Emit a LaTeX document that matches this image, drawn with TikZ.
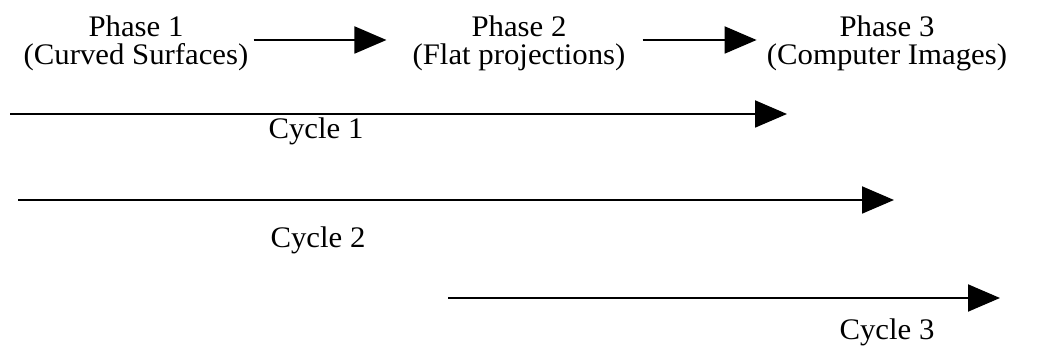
\documentclass[tikz,border=0pt]{standalone}
\usepackage{fontspec}
\setmainfont{Liberation Serif}[FakeStretch=1.03]
\usepackage{tikz}
\usetikzlibrary{arrows.meta,positioning}

\begin{document}
\begin{tikzpicture}[
  x=0.02cm, y=-0.02cm,
  phase/.style={align=center, inner sep=0pt, font=\fontsize{17}{15.9}\selectfont},
  lbl/.style={inner sep=0pt, anchor=base, font=\fontsize{17}{15.9}\selectfont},
  arr/.style={-{Triangle[length=6.4mm,width=5.4mm]}, line width=1.1pt}
]
\useasboundingbox (0,0) rectangle (1037,347);
\node[phase] (phaseA) at (136,43) {Phase 1\\(Curved Surfaces)};
\node[phase] (phaseB) at (519,43) {Phase 2\\(Flat projections)};
\node[phase] (phaseC) at (887,43) {Phase 3\\(Computer Images)};
% cycle arrows
\coordinate (cycAs) at (10,114);
\coordinate (cycAe) at (787,114);
\coordinate (cycBs) at (18,200);
\coordinate (cycBe) at (894,200);
\coordinate (cycCs) at (448,298);
\coordinate (cycCe) at (1000,298);
\node[lbl] (cycA) at (316,139) {Cycle 1};
\node[lbl] (cycB) at (318,248) {Cycle 2};
\node[lbl] (cycC) at (887,339) {Cycle 3};
\draw[arr] ([xshift=2.8pt]phaseA.east |- 0,40) -- ([xshift=-14.7pt]phaseB.west |- 0,40);
\draw[arr] ([xshift=9.6pt]phaseB.east |- 0,40) -- ([xshift=-5.7pt]phaseC.west |- 0,40);
\draw[arr] (cycAs) -- (cycAe);
\draw[arr] (cycBs) -- (cycBe);
\draw[arr] (cycCs) -- (cycCe);
\end{tikzpicture}
\end{document}
